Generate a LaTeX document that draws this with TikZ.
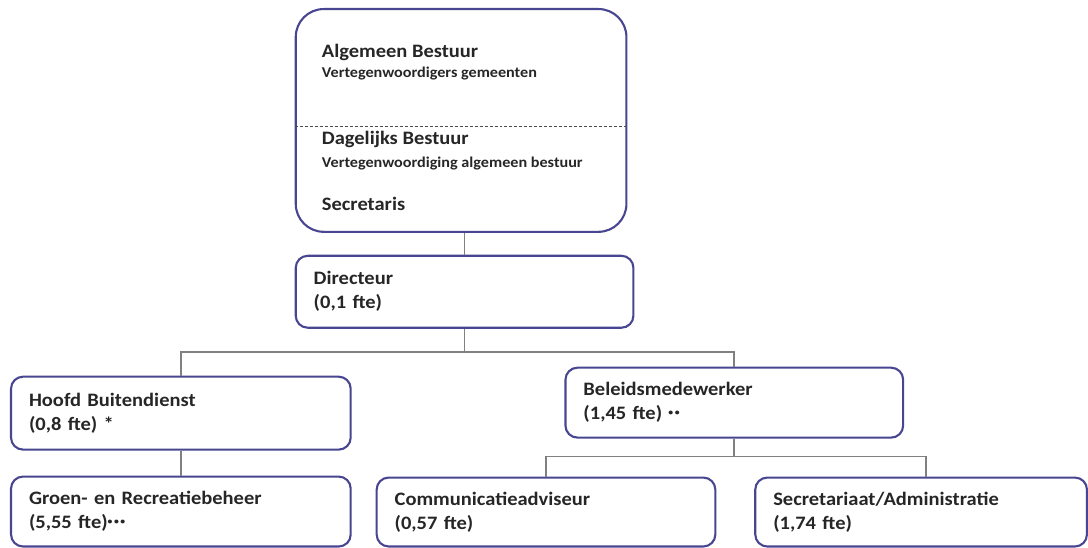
\documentclass[tikz,border=0pt]{standalone}
\usepackage{fontspec}
\setmainfont{Carlito}[FakeStretch=1.08]
\usetikzlibrary{positioning}
\definecolor{boxblue}{RGB}{72,70,145}
\definecolor{linegray}{RGB}{128,128,128}
\definecolor{txt}{RGB}{38,38,38}
\newcommand{\fdots}[1]{\raisebox{4pt}{\fontsize{9}{9}\selectfont#1}}
\begin{document}
\begin{tikzpicture}[x=1pt,y=-1pt,
unit/.style={draw=boxblue,line width=2.1pt,rounded corners=12pt,fill=white,anchor=north west,inner xsep=18pt,inner ysep=0pt,align=left,text=txt,font=\bfseries\fontsize{19}{24}\selectfont},
head/.style={anchor=west,inner sep=0pt,text=txt,font=\bfseries\fontsize{19}{24}\selectfont},
sub/.style={anchor=west,inner sep=0pt,text=txt,font=\bfseries\fontsize{15}{18}\selectfont},
link/.style={draw=linegray,line width=1.7pt}]
\fill[white](0,0)rectangle(1088,547);
\pgfmathsetmacro{\dash}{127}
\node[draw=boxblue,line width=2.1pt,rounded corners=28pt,minimum width=331pt,minimum height=223pt,anchor=north west,inner sep=0pt](top)at(295,8){};
\draw[black!70,line width=0.8pt,dash pattern=on 3pt off 2pt](top.west|-0,\dash)--(top.east|-0,\dash);
\node[head](ab)at(322,53){Algemeen Bestuur};
\node[sub](abs)at(322,74){Vertegenwoordigers gemeenten};
\node[head](db)at(322,140){Dagelijks Bestuur};
\node[sub](dbs)at(322,164){Vertegenwoordiging algemeen bestuur};
\node[head](sec)at(322,204){Secretaris};
\node[unit,minimum height=72pt,text width=302pt](dir)at(295,255){Directeur\\(0,1 fte)};
\node[unit,minimum height=73pt,text width=304pt](hoofd)at(10,376){Hoofd Buitendienst\\(0,8 fte) *};
\node[unit,minimum height=70pt,text width=302pt](beleid)at(565,367){Beleidsmedewerker\\(1,45 fte) \fdots{•\,•}};
\node[unit,minimum height=70pt,text width=304pt](groen)at(10,476){Groen- en Recreatiebeheer\\(5,55 fte)\fdots{•\,•\,•}};
\node[unit,minimum height=69pt,text width=303pt](comm)at(376,477){Communicatieadviseur\\(0,57 fte)};
\node[unit,minimum height=69pt,text width=296pt](secr)at(755,477){Secretariaat/Administratie\\(1,74 fte)};
\draw[link](dir.north)--(dir.north|-top.south);
\draw[link](dir.south)--++(0,23)-|(hoofd.north);
\draw[link](dir.south)--++(0,23)-|(beleid.north);
\draw[link](hoofd)--(groen);
\draw[link](beleid.south)--++(0,18)-|(comm.north);
\draw[link](beleid.south)--++(0,18)-|([xshift=5pt]secr.north);
\end{tikzpicture}
\end{document}
